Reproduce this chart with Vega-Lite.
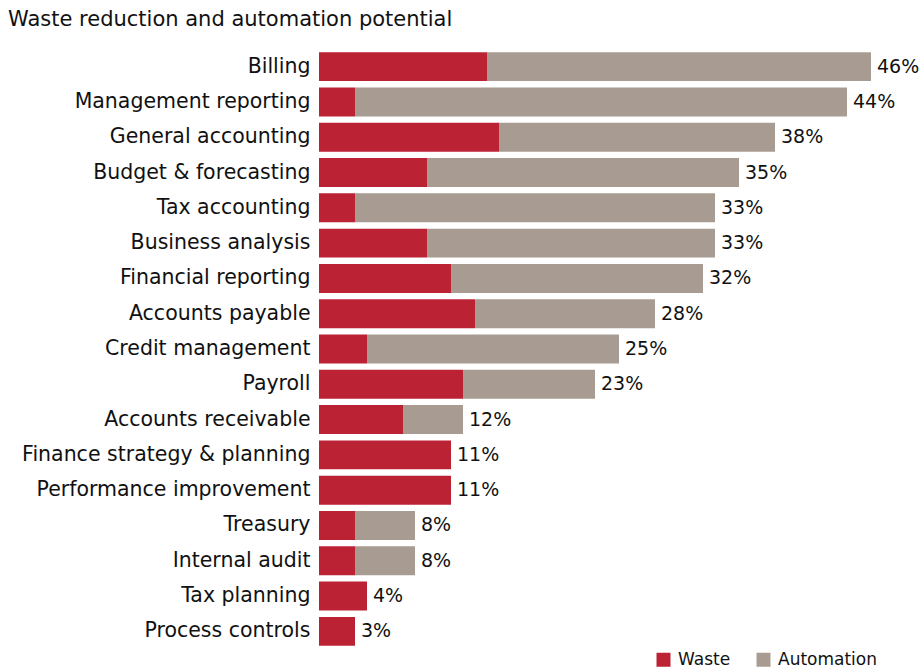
{
  "$schema": "https://vega.github.io/schema/vega-lite/v6.json",
  "autosize": "none",
  "width": 552,
  "height": 600,
  "padding": {"left": 319, "top": 49, "right": 49, "bottom": 21},
  "background": "white",
  "config": {"view": {"stroke": null}, "font": "DejaVu Sans"},
  "title": {
    "text": "Waste reduction and automation potential",
    "anchor": "start",
    "frame": "group",
    "dx": -311,
    "offset": 19,
    "fontSize": 21,
    "fontWeight": "normal",
    "color": "#111111",
    "font": "DejaVu Sans"
  },
  "data": {
    "values": [
      {"category": "Billing", "type": "Waste", "value": 14},
      {"category": "Billing", "type": "Automation", "value": 32},
      {"category": "Management reporting", "type": "Waste", "value": 3},
      {"category": "Management reporting", "type": "Automation", "value": 41},
      {"category": "General accounting", "type": "Waste", "value": 15},
      {"category": "General accounting", "type": "Automation", "value": 23},
      {"category": "Budget & forecasting", "type": "Waste", "value": 9},
      {"category": "Budget & forecasting", "type": "Automation", "value": 26},
      {"category": "Tax accounting", "type": "Waste", "value": 3},
      {"category": "Tax accounting", "type": "Automation", "value": 30},
      {"category": "Business analysis", "type": "Waste", "value": 9},
      {"category": "Business analysis", "type": "Automation", "value": 24},
      {"category": "Financial reporting", "type": "Waste", "value": 11},
      {"category": "Financial reporting", "type": "Automation", "value": 21},
      {"category": "Accounts payable", "type": "Waste", "value": 13},
      {"category": "Accounts payable", "type": "Automation", "value": 15},
      {"category": "Credit management", "type": "Waste", "value": 4},
      {"category": "Credit management", "type": "Automation", "value": 21},
      {"category": "Payroll", "type": "Waste", "value": 12},
      {"category": "Payroll", "type": "Automation", "value": 11},
      {"category": "Accounts receivable", "type": "Waste", "value": 7},
      {"category": "Accounts receivable", "type": "Automation", "value": 5},
      {"category": "Finance strategy & planning", "type": "Waste", "value": 11},
      {"category": "Finance strategy & planning", "type": "Automation", "value": 0},
      {"category": "Performance improvement", "type": "Waste", "value": 11},
      {"category": "Performance improvement", "type": "Automation", "value": 0},
      {"category": "Treasury", "type": "Waste", "value": 3},
      {"category": "Treasury", "type": "Automation", "value": 5},
      {"category": "Internal audit", "type": "Waste", "value": 3},
      {"category": "Internal audit", "type": "Automation", "value": 5},
      {"category": "Tax planning", "type": "Waste", "value": 4},
      {"category": "Tax planning", "type": "Automation", "value": 0},
      {"category": "Process controls", "type": "Waste", "value": 3},
      {"category": "Process controls", "type": "Automation", "value": 0}
    ]
  },
  "encoding": {
    "y": {
      "field": "category",
      "type": "nominal",
      "sort": ["Billing", "Management reporting", "General accounting", "Budget & forecasting", "Tax accounting", "Business analysis", "Financial reporting", "Accounts payable", "Credit management", "Payroll", "Accounts receivable", "Finance strategy & planning", "Performance improvement", "Treasury", "Internal audit", "Tax planning", "Process controls"],
      "scale": {"paddingInner": 0.18, "paddingOuter": 0.09},
      "axis": {
        "title": null,
        "domain": false,
        "ticks": false,
        "labelPadding": 9,
        "labelFontSize": 20.5,
        "labelColor": "#111111",
        "labelFont": "DejaVu Sans",
        "labelLimit": 400
      }
    }
  },
  "layer": [
    {
      "mark": {"type": "bar"},
      "encoding": {
        "x": {
          "field": "value",
          "type": "quantitative",
          "stack": "zero",
          "scale": {"domain": [0, 46], "nice": false},
          "axis": null
        },
        "color": {
          "field": "type",
          "type": "nominal",
          "scale": {"domain": ["Waste", "Automation"], "range": ["#bb2234", "#a89c92"]},
          "legend": {
            "title": null,
            "orient": "none",
            "legendX": 336,
            "legendY": 602,
            "direction": "horizontal",
            "symbolType": "square",
            "symbolSize": 196,
            "symbolOpacity": 1,
            "symbolStrokeWidth": 0,
            "labelFontSize": 17,
            "labelColor": "#111111",
            "labelFont": "DejaVu Sans",
            "labelOffset": 6,
            "columnPadding": 24
          }
        },
        "order": {"field": "type", "sort": "descending"}
      }
    },
    {
      "transform": [
        {"aggregate": [{"op": "sum", "field": "value", "as": "total"}], "groupby": ["category"]},
        {"calculate": "datum.total + '%'", "as": "label"}
      ],
      "mark": {"type": "text", "align": "left", "baseline": "middle", "dx": 6, "fontSize": 19, "color": "#111111", "font": "DejaVu Sans"},
      "encoding": {
        "x": {"field": "total", "type": "quantitative"},
        "text": {"field": "label"}
      }
    }
  ]
}
